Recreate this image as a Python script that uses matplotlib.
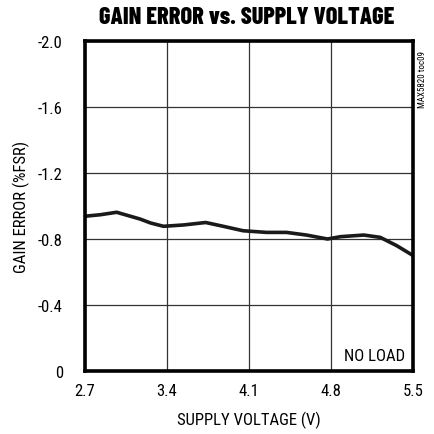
import matplotlib
matplotlib.use("Agg")
import matplotlib.pyplot as plt

# values
supply_v = [2.70, 2.83, 2.97, 3.17, 3.26, 3.37, 3.54, 3.73, 3.88,
            4.05, 4.25, 4.42, 4.59, 4.77, 4.88, 5.08, 5.22, 5.36, 5.50]
gain_err = [-0.938, -0.947, -0.962, -0.921, -0.897, -0.877, -0.885, -0.900, -0.877,
            -0.850, -0.840, -0.840, -0.824, -0.800, -0.814, -0.824, -0.810, -0.760, -0.700]

x_ticks = [2.7, 3.4, 4.1, 4.8, 5.5]
y_ticks = [-2.0, -1.6, -1.2, -0.8, -0.4, 0]
y_labels = ["-2.0", "-1.6", "-1.2", "-0.8", "-0.4", "0"]

narrow = ["Roboto Condensed", "Archivo Narrow", "Asap Condensed", "DejaVu Sans"]
plt.rcParams["font.family"] = narrow

fig = plt.figure(figsize=(4.35, 4.35), dpi=100)
ax = fig.add_axes([85 / 435, 63 / 435, 328 / 435, 330 / 435])

ax.plot(supply_v, gain_err, color="#1a1a1a", lw=2.6, solid_capstyle="round")

ax.set_xlim(2.7, 5.5)
ax.set_ylim(0, -2.0)
ax.set_xticks(x_ticks)
ax.set_xticklabels([f"{v:.1f}" for v in x_ticks])
ax.set_yticks(y_ticks)
ax.set_yticklabels(y_labels)
ax.tick_params(length=0, labelsize=12)
ax.tick_params(axis="x", pad=9)
ax.tick_params(axis="y", pad=16)
ax.grid(True, color="#333333", lw=0.9)

for s in ax.spines.values():
    s.set_linewidth(2.6)
    s.set_color("black")

ax.set_xlabel("SUPPLY VOLTAGE (V)", fontsize=12, labelpad=9)
ax.set_ylabel("GAIN ERROR (%FSR)", fontsize=12, labelpad=6)

fig.text(247 / 435, 1 - 18 / 435, "GAIN ERROR vs. SUPPLY VOLTAGE",
         ha="center", va="center", fontsize=17.5, fontweight="heavy",
         family=["Barlow Condensed", "Roboto Condensed", "Archivo Narrow"])
ax.text(0.975, 0.025, "NO LOAD", transform=ax.transAxes, ha="right", va="bottom",
        fontsize=12)
fig.text(423 / 435, 1 - 80 / 435, "MAX5820 toc09", rotation=90,
         ha="center", va="center", fontsize=6.5)

fig.savefig("out.png", dpi=100)
